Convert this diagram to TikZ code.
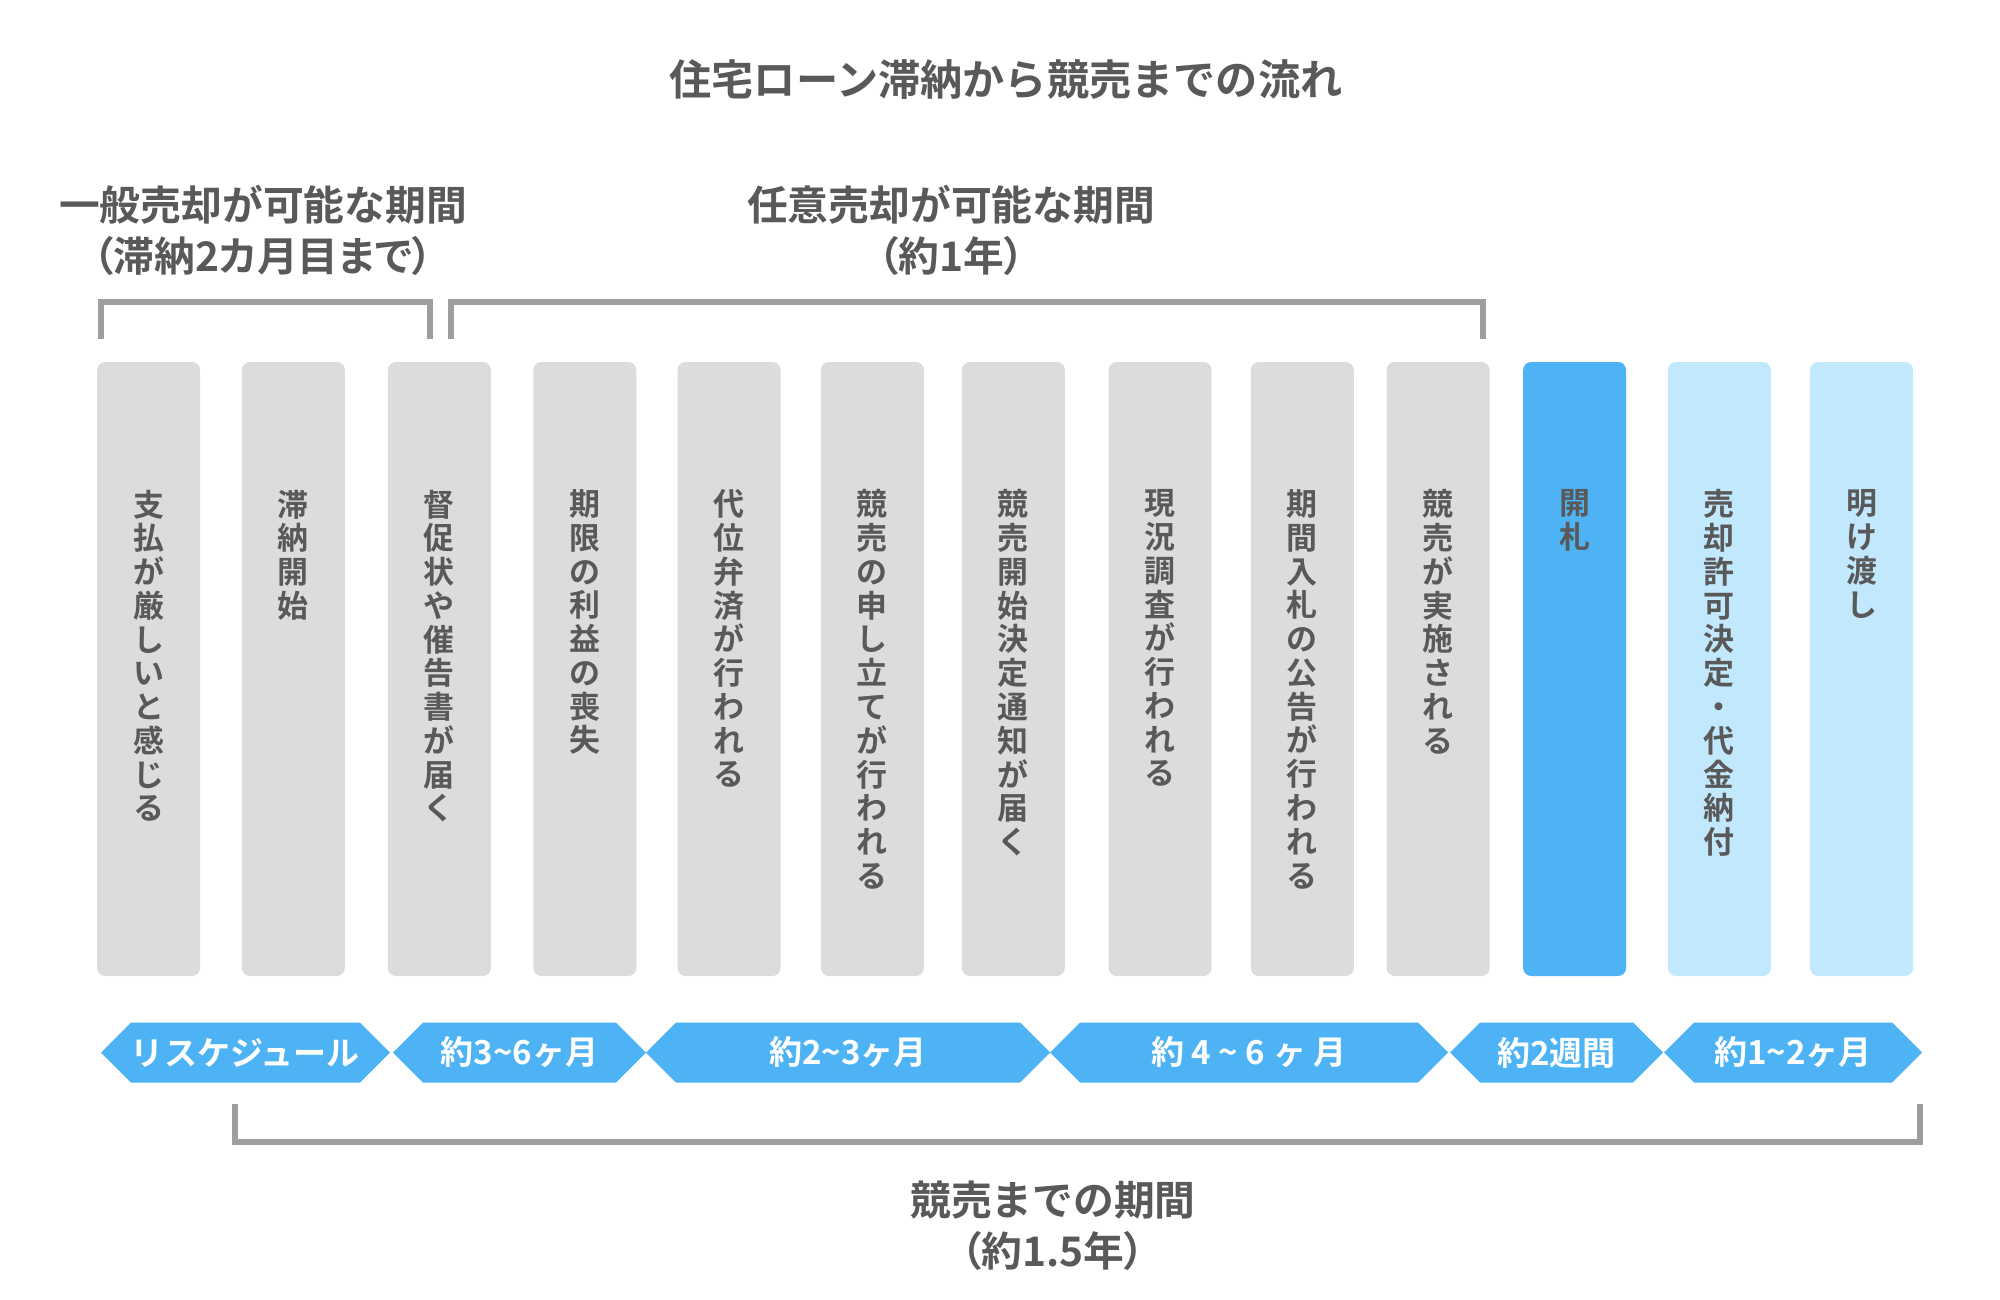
\documentclass[tikz,border=0pt]{standalone}
\usepackage{fontspec}
\setmainfont{Noto Sans CJK JP}[BoldFont={Noto Sans CJK JP Bold}]

\definecolor{txt}{HTML}{595959}
\definecolor{barg}{HTML}{DCDCDC}
\definecolor{barblue}{HTML}{4DB3F4}
\definecolor{barlight}{HTML}{C2E8FD}
\definecolor{brk}{HTML}{9E9E9E}

% stack the characters of a label one below the other
\newcommand{\tate}[1]{\vbox{\baselineskip=9.6pt\tateA#1\relax}}
\def\tateA#1{\ifx\relax#1\else\hbox to 1em{\hss#1\hss}\expandafter\tateA\fi}

\begin{document}
\begin{tikzpicture}[x=0.01cm, y=-0.01cm,
        bartext/.style={anchor=north, inner sep=0pt, text=txt, font=\fontsize{8.8}{9.6}\selectfont\bfseries},
        heading/.style={align=center, text=txt, font=\fontsize{11.6}{14.5}\selectfont\bfseries},
        periodtext/.style={text=white, inner sep=0pt, font=\fontsize{9.4}{11}\selectfont\bfseries},
        bracket/.style={draw=brk, line width=1.7pt, line cap=butt, line join=miter}
    ]
        \useasboundingbox (0,0) rectangle (2000,1300);

        % Title
        \node[heading, font=\fontsize{12}{14}\selectfont\bfseries] (title) at (1006,80) {住宅ローン滞納から競売までの流れ};

        % Periods on top
        \node[heading] (general) at (263,230) {一般売却が可能な期間\\{\addfontfeatures{RawFeature=+palt}（滞納2カ月目まで）}};
        \node[heading] (voluntary) at (951,230) {任意売却が可能な期間\\{\addfontfeatures{RawFeature=+palt}（約1年）}};
        \draw[bracket] (101,339) -- (101,302) -- (430,302) -- (430,339);
        \draw[bracket] (451,339) -- (451,302) -- (1483,302) -- (1483,339);

        % Steps
        \foreach \x/\fc/\lbl [count=\i] in {
            148.6/barg/支払が厳しいと感じる,
            293.4/barg/滞納開始,
            439.4/barg/督促状や催告書が届く,
            584.8/barg/期限の利益の喪失,
            729.0/barg/代位弁済が行われる,
            872.4/barg/競売の申し立てが行われる,
            1013.4/barg/競売開始決定通知が届く,
            1160.1/barg/現況調査が行われる,
            1302.3/barg/期間入札の公告が行われる,
            1438.1/barg/競売が実施される,
            1574.6/barblue/開札,
            1719.4/barlight/売却許可決定・代金納付,
            1861.6/barlight/明け渡し} {
            \fill[\fc, rounded corners=2.3pt] (\x-51.5,362) rectangle (\x+51.5,976);
            \node[bartext] (step\i) at (\x,489) {\expandafter\tate\expandafter{\lbl}};
        }

        % Durations
        \foreach \l/\r/\lbl [count=\i] in {
            101/390/リスケジュール,
            393/646/約3\textasciitilde6ヶ月,
            646/1050/約2\textasciitilde3ヶ月,
            1050/1448/約 4 \textasciitilde{} 6 ヶ 月,
            1450/1663/約2週間,
            1664/1922/約1\textasciitilde2ヶ月} {
            \fill[barblue] (\l,1052.5) -- (\l+30,1022.5) -- (\r-30,1022.5) -- (\r,1052.5)
                -- (\r-30,1082.5) -- (\l+30,1082.5) -- cycle;
            \node[periodtext] (period\i) at ({(\l+\r)/2},1052.5) {\lbl};
        }

        % Period until the auction
        \draw[bracket] (235,1104) -- (235,1142) -- (1920,1142) -- (1920,1104);
        \node[heading] (auction) at (1053,1226) {競売までの期間\\{\addfontfeatures{RawFeature=+palt}（約1.5年）}};

    \end{tikzpicture}
\end{document}
